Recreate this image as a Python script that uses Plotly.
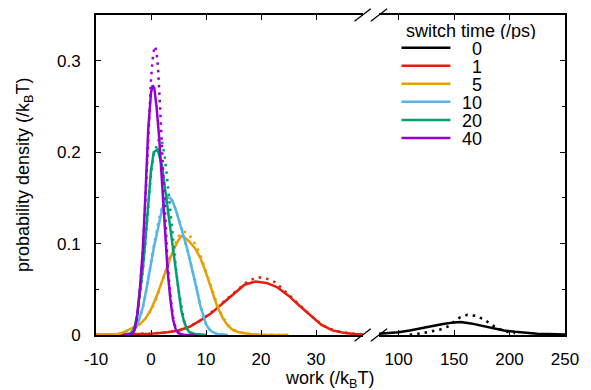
import plotly.graph_objects as go

# ---------------- data ----------------
switch_times = ["0", "1", "5", "10", "20", "40"]
colors = ["#000000", "#e51e10", "#e69f00", "#56b4e9", "#009e73", "#9400d3"]

# switch time 0 ps (right, broken part of the axis)
t0_line_x = [80, 90, 100, 110, 120, 130, 140, 150, 156, 165, 175, 185, 195, 205, 215, 225, 235, 250]
t0_line_y = [0.0012, 0.0018, 0.003, 0.005, 0.0075, 0.0098, 0.012, 0.0138, 0.0143, 0.0127, 0.0099,
             0.0072, 0.005, 0.0035, 0.0022, 0.0014, 0.001, 0.0006]
t0_dots_x = [110, 116, 122, 130, 137, 144, 150, 155, 162, 169, 177, 184, 190, 196, 205]
t0_dots_y = [0.0003, 0.001, 0.002, 0.004, 0.0058, 0.009, 0.014, 0.019, 0.022, 0.021, 0.017, 0.011,
             0.007, 0.004, 0.002]

# switch time 1 ps
t1_line_x = [-10, -5, 0, 3, 5, 7, 9, 11, 13, 15, 17, 19, 21, 23, 25, 27, 29, 31, 33, 35, 37, 39]
t1_line_y = [0.0002, 0.0005, 0.0015, 0.003, 0.005, 0.009, 0.016, 0.024, 0.034, 0.045, 0.055, 0.0585,
             0.057, 0.052, 0.043, 0.032, 0.021, 0.011, 0.005, 0.0025, 0.001, 0.0005]
t1_dots_x = [-10, -5, 0, 3, 5, 7, 9, 11, 13, 15, 17, 18.2, 19.6, 21.1, 22.5, 24, 26, 28, 30, 32, 34, 36, 39]
t1_dots_y = [0.0002, 0.0005, 0.0015, 0.003, 0.005, 0.009, 0.016, 0.025, 0.035, 0.046, 0.056, 0.0605,
             0.063, 0.0615, 0.058, 0.05, 0.039, 0.027, 0.016, 0.008, 0.004, 0.002, 0.0005]

# switch time 5 ps
t5_line_x = [-10, -7, -6, -5, -4, -3, -2, -1, 0, 1, 2, 3, 4, 5, 5.5, 6, 7, 8, 9, 10, 11, 12, 13, 14,
             15, 16, 17, 18, 20, 25]
t5_line_y = [0, 0.0005, 0.001, 0.003, 0.006, 0.009, 0.012, 0.018, 0.028, 0.042, 0.058, 0.075, 0.092,
             0.104, 0.108, 0.107, 0.102, 0.095, 0.084, 0.068, 0.05, 0.032, 0.019, 0.01, 0.005, 0.003,
             0.002, 0.001, 0.0003, 0]
t5_dots_x = [-10, -7, -6, -5, -4, -3, -2, -1, 0, 1, 2, 3, 4, 5, 6, 6.5, 7, 8, 9, 10, 11, 12, 13, 14,
             15, 16, 18, 20, 25]
t5_dots_y = [0, 0.0005, 0.001, 0.003, 0.005, 0.008, 0.012, 0.018, 0.027, 0.04, 0.057, 0.076, 0.094,
             0.108, 0.113, 0.112, 0.109, 0.1, 0.087, 0.07, 0.052, 0.034, 0.02, 0.011, 0.006, 0.003,
             0.001, 0.0003, 0]

# switch time 10 ps
t10_line_x = [-5, -4, -3.5, -3, -2.5, -2, -1.5, -1, -0.5, 0, 0.5, 1, 1.5, 2, 2.5, 3, 3.5, 4, 4.5, 5,
              5.5, 6, 6.5, 7, 7.5, 8, 8.5, 9, 9.5, 10, 10.5, 11, 12, 14]
t10_line_y = [0, 0.001, 0.002, 0.006, 0.012, 0.02, 0.03, 0.045, 0.06, 0.078, 0.095, 0.11, 0.125, 0.137,
              0.146, 0.15, 0.15, 0.145, 0.137, 0.127, 0.117, 0.107, 0.096, 0.084, 0.072, 0.06, 0.045,
              0.031, 0.02, 0.012, 0.007, 0.004, 0.001, 0]
t10_dots_x = t10_line_x
t10_dots_y = [0, 0.001, 0.002, 0.005, 0.011, 0.019, 0.029, 0.044, 0.06, 0.079, 0.097, 0.113, 0.128,
              0.14, 0.149, 0.152, 0.151, 0.146, 0.138, 0.128, 0.118, 0.107, 0.096, 0.084, 0.072,
              0.06, 0.045, 0.031, 0.02, 0.012, 0.007, 0.004, 0.001, 0]

# switch time 20 ps
t20_line_x = [-5, -4, -3.5, -3, -2.5, -2, -1.5, -1, -0.5, 0, 0.5, 1.2, 2, 2.5, 3, 3.5, 4, 4.5, 5, 5.5,
              6, 6.5, 7, 8, 10]
t20_line_y = [0, 0.001, 0.003, 0.008, 0.022, 0.045, 0.072, 0.105, 0.145, 0.18, 0.2, 0.203, 0.185,
              0.163, 0.138, 0.115, 0.092, 0.07, 0.047, 0.027, 0.015, 0.007, 0.003, 0.001, 0]
t20_dots_x = [-5, -4, -3.5, -3, -2.5, -2, -1.5, -1, -0.5, 0, 0.5, 1, 1.5, 2, 2.5, 3, 3.5, 4, 4.5, 5,
              5.5, 6, 6.5, 7, 8, 10]
t20_dots_y = [0, 0.001, 0.003, 0.008, 0.02, 0.042, 0.07, 0.103, 0.142, 0.176, 0.198, 0.207, 0.215,
              0.212, 0.195, 0.168, 0.135, 0.103, 0.075, 0.05, 0.03, 0.015, 0.007, 0.003, 0.001, 0]

# switch time 40 ps
t40_line_x = [-5, -3.5, -3, -2.5, -2, -1.5, -1, -0.5, 0, 0.3, 0.6, 1, 1.5, 2, 2.5, 3, 3.5, 4, 4.5, 5,
              6, 8]
t40_line_y = [0, 0.001, 0.005, 0.022, 0.052, 0.092, 0.155, 0.225, 0.265, 0.273, 0.27, 0.25, 0.215,
              0.165, 0.115, 0.072, 0.04, 0.017, 0.006, 0.002, 0, 0]
t40_dots_x = [-5, -3.5, -3, -2.5, -2, -1.5, -1, -0.5, 0, 0.4, 0.7, 1, 1.3, 1.6, 2, 2.5, 3, 3.5, 4, 4.5,
              5, 6, 8]
t40_dots_y = [0, 0.001, 0.004, 0.02, 0.05, 0.09, 0.148, 0.215, 0.28, 0.308, 0.316, 0.31, 0.29, 0.255,
              0.2, 0.135, 0.08, 0.044, 0.02, 0.007, 0.002, 0, 0]

left_ticks = [-10, 0, 10, 20, 30]
right_ticks = [100, 150, 200, 250]
y_ticks = [0, 0.1, 0.2, 0.3]
y_minor = [0.05, 0.15, 0.25]

# ---------------- figure ----------------
W, H = 591, 390
L, R, T, B = 96, 575, 15, 335
FONT = "Liberation Sans, Arial, Helvetica, sans-serif"


def pxx(p):
    return (p - L) / (R - L)


def pxy(p):
    return (B - p) / (B - T)


series = [
    (t0_line_x, t0_line_y, t0_dots_x, t0_dots_y, "x2"),
    (t1_line_x, t1_line_y, t1_dots_x, t1_dots_y, "x"),
    (t5_line_x, t5_line_y, t5_dots_x, t5_dots_y, "x"),
    (t10_line_x, t10_line_y, t10_dots_x, t10_dots_y, "x"),
    (t20_line_x, t20_line_y, t20_dots_x, t20_dots_y, "x"),
    (t40_line_x, t40_line_y, t40_dots_x, t40_dots_y, "x"),
]

fig = go.Figure()
for (lx, ly, dx, dy, xa), c, name in zip(series, colors, switch_times):
    fig.add_trace(go.Scatter(x=lx, y=ly, mode="lines", xaxis=xa, yaxis="y",
                             line=dict(color=c, width=2.5), name=name, showlegend=False,
                             hoverinfo="skip"))
    fig.add_trace(go.Scatter(x=dx, y=dy, mode="lines", xaxis=xa, yaxis="y",
                             line=dict(color=c, width=2.5, dash="2.5px,5px"), name=name,
                             showlegend=False, hoverinfo="skip"))

# carrier for the right-hand frame axis
fig.add_trace(go.Scatter(x=[None], y=[None], xaxis="x2", yaxis="y2", showlegend=False,
                         hoverinfo="skip"))

tickfont = dict(family=FONT, size=17, color="black")
common_x = dict(showline=True, linewidth=2, linecolor="black", mirror="ticks", ticks="inside",
                ticklen=5, tickwidth=1, tickcolor="black", showgrid=False, zeroline=False,
                tickfont=tickfont, ticklabelstandoff=8, fixedrange=True)

x_split = pxx(369)
x2_start = pxx(385)

fig.update_layout(
    width=W, height=H,
    margin=dict(l=L, r=W - R, t=T, b=H - B, pad=0),
    paper_bgcolor="white", plot_bgcolor="white",
    showlegend=False,
    xaxis=dict(domain=[0, x_split], range=[-10, 38.6], anchor="y",
               tickvals=left_ticks, ticktext=[str(v) for v in left_ticks], **common_x),
    xaxis2=dict(domain=[x2_start, 1], range=[82.3, 250], anchor="y",
                tickvals=right_ticks, ticktext=[str(v) for v in right_ticks], **common_x),
    yaxis=dict(domain=[0, 1], range=[0, 0.35], anchor="x", showline=True, linewidth=2,
               linecolor="black", ticks="inside", ticklen=5, tickcolor="black",
               tickvals=y_ticks, ticktext=["0", "0.1", "0.2", "0.3"], showgrid=False,
               zeroline=False, tickfont=tickfont, ticklabelstandoff=10, fixedrange=True,
               minor=dict(tickvals=y_minor, ticks="inside", ticklen=3, tickcolor="black",
                          showgrid=False)),
    yaxis2=dict(overlaying="y", anchor="x2", side="right", range=[0, 0.35], showline=True,
                linewidth=2, linecolor="black", ticks="inside", ticklen=5, tickcolor="black",
                tickvals=y_ticks, showticklabels=False, showgrid=False, zeroline=False,
                fixedrange=True,
                minor=dict(tickvals=y_minor, ticks="inside", ticklen=3, tickcolor="black",
                           showgrid=False)),
)

shapes = []
# axis-break marks on top and bottom frame
for yc in (T, B):
    for cx in (368.3, 385.0):
        shapes.append(dict(type="line", xref="paper", yref="paper",
                           x0=pxx(cx - 8.3), y0=pxy(yc + 6.2), x1=pxx(cx + 8.3), y1=pxy(yc - 6.2),
                           line=dict(color="black", width=1.3)))

annotations = [
    dict(text="work (/k<sub>B</sub>T)", xref="paper", yref="paper", x=pxx(334), y=pxy(379),
         xanchor="center", yanchor="middle", showarrow=False,
         font=dict(family=FONT, size=18, color="black")),
    dict(text="probability density (/k<sub>B</sub>T)", xref="paper", yref="paper",
         x=pxx(22.5), y=pxy(175), xanchor="center", yanchor="middle", textangle=-90,
         showarrow=False, font=dict(family=FONT, size=18, color="black")),
    dict(text="switch time (/ps)", xref="paper", yref="paper", x=pxx(479), y=pxy(30),
         xanchor="center", yanchor="middle", showarrow=False, height=17, borderpad=0,
         font=dict(family=FONT, size=18, color="black")),
]

# key
for i, (name, c) in enumerate(zip(switch_times, colors)):
    ry = 47.7 + 18.05 * i
    shapes.append(dict(type="line", xref="paper", yref="paper", x0=pxx(408), x1=pxx(458),
                       y0=pxy(ry), y1=pxy(ry), line=dict(color=c, width=2.5)))
    annotations.append(dict(text=name, xref="paper", yref="paper", x=pxx(491), y=pxy(ry + 0.5),
                            xanchor="right", yanchor="middle", showarrow=False, borderpad=0,
                            height=17, valign="middle",
                            font=dict(family=FONT, size=18, color="black")))

fig.update_layout(shapes=shapes, annotations=annotations)

fig.write_html("out.html", config={"displayModeBar": False, "staticPlot": True},
               post_script="document.body.style.margin='0';document.body.style.overflow='hidden';")
